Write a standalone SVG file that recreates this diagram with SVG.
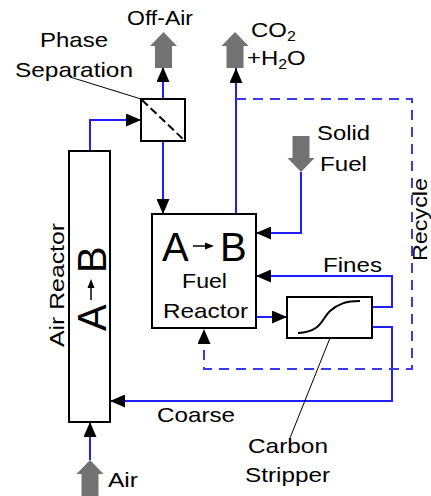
<svg xmlns="http://www.w3.org/2000/svg" width="431" height="496" viewBox="0 0 431 496">
<style>
.box{fill:#fff;stroke:#000;stroke-width:2}
.flow{fill:none;stroke:#1f1fff;stroke-width:2}
.dash{fill:none;stroke:#3a3ae8;stroke-width:2;stroke-dasharray:10 7}
.lead{fill:none;stroke:#000;stroke-width:1}
.bulk{fill:#727272}
text{font-family:"Liberation Sans",Arial,sans-serif;font-size:21px;fill:#000}
.big{font-size:40px}
</style>
<defs>
<marker id="ah" viewBox="0 0 15 13" refX="15" refY="6.5" markerWidth="15" markerHeight="13" markerUnits="userSpaceOnUse" orient="auto">
<path d="M0,0 L15,6.5 L0,13 z" fill="#000"/>
</marker>
<path id="bigArrow" class="bulk" d="M0,0 L13.5,14 L8.5,14 L8.5,36 L-8.5,36 L-8.5,14 L-13.5,14 z"/>
</defs>

<g id="connectors">
<path class="flow" d="M90,460 V422" marker-end="url(#ah)"/>
<path class="flow" d="M90,151 V120 H141" marker-end="url(#ah)"/>
<path class="flow" d="M163,99 V67" marker-end="url(#ah)"/>
<path class="flow" d="M163,141 V214" marker-end="url(#ah)"/>
<path class="flow" d="M236,214 V68" marker-end="url(#ah)"/>
<path class="flow" d="M301,172 V233 H256" marker-end="url(#ah)"/>
<path class="flow" d="M256,317 H287" marker-end="url(#ah)"/>
<path class="flow" d="M372,307 H392 V276 H256" marker-end="url(#ah)"/>
<path class="flow" d="M372,327 H392 V401 H110" marker-end="url(#ah)"/>
<path class="dash" d="M236,99 H412 V369 H204 V329" marker-end="url(#ah)"/>
<line class="lead" x1="70" y1="77" x2="141" y2="99"/>
<line class="lead" x1="330" y1="338" x2="290" y2="438"/>
</g>

<g id="off-air">
<use href="#bigArrow" transform="translate(163.5,32)"/>
<text x="127" y="25" textLength="66" lengthAdjust="spacingAndGlyphs">Off-Air</text>
</g>

<g id="co2-h2o">
<use href="#bigArrow" transform="translate(235,32)"/>
<text transform="translate(251,37) scale(1.14,1)">CO<tspan font-size="14" dy="4">2</tspan></text>
<text transform="translate(247,65) scale(1.14,1)">+H<tspan font-size="14" dy="4">2</tspan><tspan dy="-4">O</tspan></text>
</g>

<g id="solid-fuel">
<use href="#bigArrow" transform="translate(301,172) rotate(180)"/>
<text x="317" y="140" textLength="53" lengthAdjust="spacingAndGlyphs">Solid</text>
<text x="320" y="171" textLength="47" lengthAdjust="spacingAndGlyphs">Fuel</text>
</g>

<g id="air-in">
<use href="#bigArrow" transform="translate(90,460)"/>
<text x="108" y="487" textLength="30" lengthAdjust="spacingAndGlyphs">Air</text>
</g>

<g id="phase-separation">
<rect class="box" x="141" y="99" width="44" height="42"/>
<line x1="142" y1="100" x2="184" y2="140" stroke="#000" stroke-width="2" stroke-dasharray="8 4"/>
<text x="40" y="47" textLength="68" lengthAdjust="spacingAndGlyphs">Phase</text>
<text x="15" y="77" textLength="118" lengthAdjust="spacingAndGlyphs">Separation</text>
</g>

<g id="air-reactor">
<rect class="box" x="69" y="151" width="41" height="271"/>
<text transform="translate(64,347) rotate(-90)" font-size="22" textLength="124" lengthAdjust="spacingAndGlyphs">Air Reactor</text>
<g transform="translate(106,331) rotate(-90)">
<text class="big" x="0" y="0">A</text>
<line x1="31" y1="-15" x2="45" y2="-15" stroke="#000" stroke-width="1.5"/>
<path d="M43,-18.5 L52,-15 L43,-11.5 z" fill="#000"/>
<text class="big" x="58" y="0">B</text>
</g>
</g>

<g id="fuel-reactor">
<rect class="box" x="152" y="214" width="104" height="114"/>
<g transform="translate(162,261)">
<text class="big" x="0" y="0">A</text>
<line x1="31" y1="-15" x2="45" y2="-15" stroke="#000" stroke-width="1.5"/>
<path d="M43,-18.5 L52,-15 L43,-11.5 z" fill="#000"/>
<text class="big" x="58" y="0">B</text>
</g>
<text x="182" y="288" textLength="45" lengthAdjust="spacingAndGlyphs">Fuel</text>
<text x="163" y="318" textLength="85" lengthAdjust="spacingAndGlyphs">Reactor</text>
</g>

<g id="carbon-stripper">
<rect class="box" x="287" y="297" width="85" height="41"/>
<path d="M298,333 C322,332 322,318 330,311 C338,304 346,301 360,301" fill="none" stroke="#000" stroke-width="2"/>
<text x="248" y="453" textLength="80" lengthAdjust="spacingAndGlyphs">Carbon</text>
<text x="245" y="482" textLength="85" lengthAdjust="spacingAndGlyphs">Stripper</text>
</g>

<g id="labels">
<text x="323" y="272" textLength="59" lengthAdjust="spacingAndGlyphs">Fines</text>
<text x="157" y="422" textLength="78" lengthAdjust="spacingAndGlyphs">Coarse</text>
<text transform="translate(426.5,261) rotate(-90)" font-size="17" textLength="83" lengthAdjust="spacingAndGlyphs">Recycle</text>
</g>
</svg>
